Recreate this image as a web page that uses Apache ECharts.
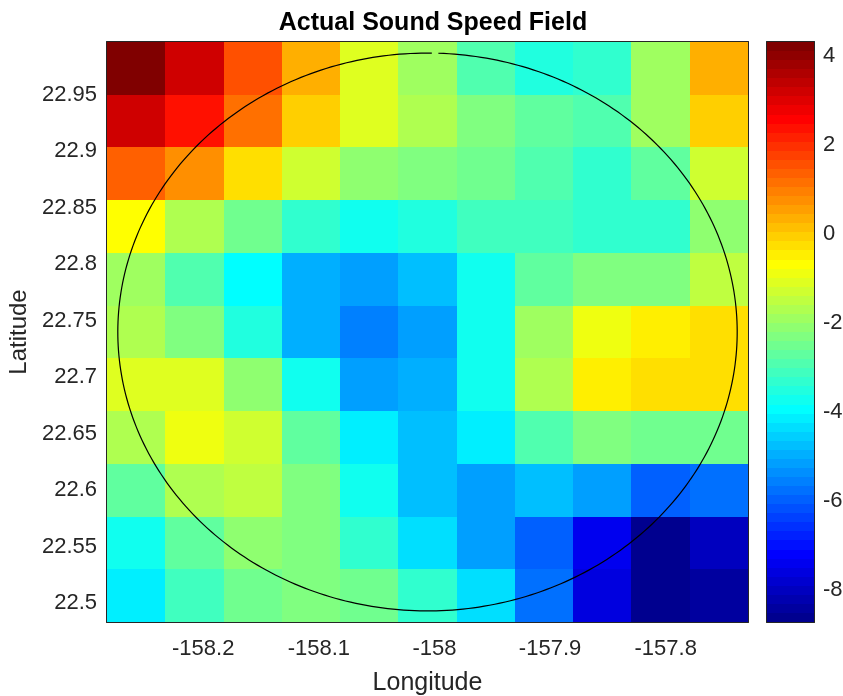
<!DOCTYPE html>
<html>
<head>
<meta charset="utf-8">
<script src="https://cdn.jsdelivr.net/npm/echarts@6/dist/echarts.min.js"></script>
<style>
  html, body { margin: 0; padding: 0; background: #ffffff; }
  #chart { width: 843px; height: 696px; }
</style>
</head>
<body>
<div id="chart"></div>
<script>
// Grid cell centres (degrees)
const lonCenters = [-158.258, -158.2076, -158.1572, -158.1068, -158.0564, -158.006,
                    -157.9556, -157.9052, -157.8548, -157.8044, -157.754];
// Latitude rows, north to south
const latCenters = [22.9735, 22.9268, 22.8801, 22.8334, 22.7867, 22.7400,
                    22.6933, 22.6466, 22.5999, 22.5532, 22.5065];

// Sound speed anomaly (m/s), one row per latitude, west to east
const soundSpeedRows = [
  [ 4.32,  3.20,  1.57,  0.35, -1.07, -1.89, -2.91, -3.52, -3.32, -1.89,  0.35],
  [ 3.20,  2.39,  1.17, -0.06, -1.07, -1.69, -2.30, -2.70, -2.91, -1.89, -0.06],
  [ 1.37,  0.76, -0.26, -1.28, -2.09, -2.30, -2.50, -2.91, -3.32, -2.70, -1.28],
  [-0.67, -1.69, -2.50, -3.32, -3.72, -3.52, -3.11, -3.11, -3.32, -3.32, -2.09],
  [-1.89, -2.91, -3.93, -4.95, -5.15, -4.74, -3.72, -2.70, -2.30, -2.30, -1.48],
  [-1.69, -2.30, -3.52, -4.95, -5.56, -5.15, -3.72, -1.89, -0.87, -0.46, -0.26],
  [-1.07, -1.07, -2.09, -3.72, -5.15, -4.95, -3.72, -1.69, -0.46, -0.26, -0.26],
  [-1.69, -0.87, -1.28, -2.70, -4.13, -4.74, -4.13, -2.91, -2.30, -2.50, -2.50],
  [-2.70, -1.69, -1.48, -2.30, -3.72, -4.74, -5.15, -4.74, -5.15, -5.96, -5.76],
  [-3.72, -2.70, -2.09, -2.30, -3.32, -4.33, -5.15, -5.96, -7.39, -8.61, -8.00],
  [-4.13, -3.11, -2.50, -2.30, -2.50, -3.32, -4.33, -5.76, -7.59, -8.72, -8.41]
];

const lonTicks = [-158.2, -158.1, -158, -157.9, -157.8];
const latTicks = [22.5, 22.55, 22.6, 22.65, 22.7, 22.75, 22.8, 22.85, 22.9, 22.95];
const colorbarTicks = [-8, -6, -4, -2, 0, 2, 4];

// Survey circle: centre (lon, lat) and radius in km
const circleCenter = [-158.006, 22.740];
const circleRadiusKm = 27.5;

// ---- derived helpers ----
// cell edges halfway between neighbouring centres (outer edges mirrored)
function edgesOf(centers) {
  const e = [];
  const n = centers.length;
  e.push(centers[0] - (centers[1] - centers[0]) / 2);
  for (let i = 1; i < n; i++) e.push((centers[i - 1] + centers[i]) / 2);
  e.push(centers[n - 1] + (centers[n - 1] - centers[n - 2]) / 2);
  return e;
}
const lonEdges = edgesOf(lonCenters);
const latEdges = edgesOf(latCenters);
const lonMin = Math.min(lonEdges[0], lonEdges[lonEdges.length - 1]);
const lonMax = Math.max(lonEdges[0], lonEdges[lonEdges.length - 1]);
const latMin = Math.min(latEdges[0], latEdges[latEdges.length - 1]);
const latMax = Math.max(latEdges[0], latEdges[latEdges.length - 1]);

const cells = [];
soundSpeedRows.forEach((row, r) => {
  row.forEach((v, c) => cells.push([lonCenters[c], latCenters[r], v, c, r]));
});
const allValues = soundSpeedRows.flat();
const cMin = Math.min(...allValues);
const cMax = Math.max(...allValues);
const nColors = 64;

// MATLAB-style jet colormap with n entries
function jetMap(n) {
  const q = Math.ceil(n / 4);
  const u = [];
  for (let i = 1; i <= q; i++) u.push(i / q);
  for (let i = 1; i < q; i++) u.push(1);
  for (let i = q; i >= 1; i--) u.push(i / q);
  const gOff = Math.ceil(q / 2) - (n % 4 === 1 ? 1 : 0);
  const cols = [];
  for (let j = 1; j <= n; j++) {
    const pick = k => (k >= 1 && k <= u.length) ? u[k - 1] : 0;
    const g = pick(j - gOff);
    const rr = pick(j - gOff - q);
    const b = pick(j - gOff + q);
    cols.push('rgb(' + Math.round(rr * 255) + ',' + Math.round(g * 255) + ',' + Math.round(b * 255) + ')');
  }
  return cols;
}
const jet = jetMap(nColors);
function colorFor(v) {
  let idx = Math.floor((v - cMin) / (cMax - cMin) * nColors);
  idx = Math.max(0, Math.min(nColors - 1, idx));
  return jet[idx];
}

const bands = [];
for (let i = 0; i < nColors; i++) bands.push([i]);
const bandStep = (cMax - cMin) / nColors;

// rectangle between two pixel corners, snapped to whole pixels so neighbours meet
function pixelRect(p0, p1) {
  const x0 = Math.round(Math.min(p0[0], p1[0])), x1 = Math.round(Math.max(p0[0], p1[0]));
  const y0 = Math.round(Math.min(p0[1], p1[1])), y1 = Math.round(Math.max(p0[1], p1[1]));
  return { x: x0, y: y0, width: x1 - x0, height: y1 - y0 };
}

const axisColor = '#262626';
const fontFamily = '"Liberation Sans", Arial, Helvetica, sans-serif';
const fmt = v => String(+(+v).toFixed(3));
const tickFont = 22;

const chart = echarts.init(document.getElementById('chart'), null, { renderer: 'canvas' });

const option = {
  backgroundColor: '#ffffff',
  animation: false,
  title: {
    text: 'Actual Sound Speed Field',
    left: 428, top: 6, textAlign: 'center',
    textStyle: { fontFamily, fontSize: 25, fontWeight: 'bold', color: '#000000' }
  },
  grid: [
    { left: 107, top: 42, width: 641, height: 580, show: false, containLabel: false, outerBoundsMode: 'none' },
    { left: 767, top: 42, width: 47, height: 580, show: false, containLabel: false, outerBoundsMode: 'none' }
  ],
  xAxis: [
    {
      type: 'value', gridIndex: 0, position: 'bottom', min: lonMin, max: lonMax,
      name: 'Longitude', nameLocation: 'middle', nameGap: 49,
      nameTextStyle: { fontFamily, fontSize: 25, color: axisColor },
      axisLine: { show: true, onZero: false, lineStyle: { color: axisColor, width: 2 } },
      axisTick: { show: true, inside: true, length: 7, customValues: lonTicks, lineStyle: { color: axisColor, width: 2 } },
      axisLabel: { show: true, customValues: lonTicks, margin: 16, formatter: fmt, fontFamily, fontSize: tickFont, color: axisColor },
      splitLine: { show: false }
    },
    {
      type: 'value', gridIndex: 0, position: 'top', min: lonMin, max: lonMax,
      axisLine: { show: true, onZero: false, lineStyle: { color: axisColor, width: 2 } },
      axisTick: { show: true, inside: true, length: 7, customValues: lonTicks, lineStyle: { color: axisColor, width: 2 } },
      axisLabel: { show: false }, splitLine: { show: false }
    },
    {
      type: 'value', gridIndex: 1, min: 0, max: 1, show: true, position: 'bottom',
      axisLine: { show: true, onZero: false, lineStyle: { color: axisColor, width: 2 } },
      axisTick: { show: false }, axisLabel: { show: false }, splitLine: { show: false }
    },
    {
      type: 'value', gridIndex: 1, min: 0, max: 1, show: true, position: 'top',
      axisLine: { show: true, onZero: false, lineStyle: { color: axisColor, width: 2 } },
      axisTick: { show: false }, axisLabel: { show: false }, splitLine: { show: false }
    }
  ],
  yAxis: [
    {
      type: 'value', gridIndex: 0, position: 'left', min: latMin, max: latMax,
      name: 'Latitude', nameLocation: 'middle', nameGap: 71, nameRotate: 90,
      nameTextStyle: { fontFamily, fontSize: 24, color: axisColor },
      axisLine: { show: true, onZero: false, lineStyle: { color: axisColor, width: 2 } },
      axisTick: { show: true, inside: true, length: 7, customValues: latTicks, lineStyle: { color: axisColor, width: 2 } },
      axisLabel: { show: true, customValues: latTicks, margin: 10, formatter: fmt, fontFamily, fontSize: tickFont, color: axisColor },
      splitLine: { show: false }
    },
    {
      type: 'value', gridIndex: 0, position: 'right', min: latMin, max: latMax,
      axisLine: { show: true, onZero: false, lineStyle: { color: axisColor, width: 2 } },
      axisTick: { show: true, inside: true, length: 7, customValues: latTicks, lineStyle: { color: axisColor, width: 2 } },
      axisLabel: { show: false }, splitLine: { show: false }
    },
    {
      type: 'value', gridIndex: 1, position: 'right', min: cMin, max: cMax,
      axisLine: { show: true, onZero: false, lineStyle: { color: axisColor, width: 2 } },
      axisTick: { show: true, inside: true, length: 7, customValues: colorbarTicks, lineStyle: { color: axisColor, width: 2 } },
      axisLabel: { show: true, customValues: colorbarTicks, margin: 9, formatter: fmt, fontFamily, fontSize: tickFont, color: axisColor },
      splitLine: { show: false }
    },
    {
      type: 'value', gridIndex: 1, position: 'left', min: cMin, max: cMax,
      axisLine: { show: true, onZero: false, lineStyle: { color: axisColor, width: 2 } },
      axisTick: { show: false }, axisLabel: { show: false }, splitLine: { show: false }
    }
  ],
  series: [
    {
      name: 'Sound speed', type: 'custom', xAxisIndex: 0, yAxisIndex: 0, clip: true, z: 1,
      data: cells,
      renderItem: (params, api) => {
        const v = api.value(2), c = api.value(3), r = api.value(4);
        const p0 = api.coord([lonEdges[c], latEdges[r]]);
        const p1 = api.coord([lonEdges[c + 1], latEdges[r + 1]]);
        return {
          type: 'rect',
          shape: pixelRect(p0, p1),
          style: { fill: colorFor(v), lineWidth: 0 }
        };
      }
    },
    {
      name: 'Survey circle', type: 'custom', xAxisIndex: 0, yAxisIndex: 0, clip: true, z: 3,
      data: [[circleCenter[0], circleCenter[1], circleRadiusKm]],
      renderItem: (params, api) => {
        const lon0 = api.value(0), lat0 = api.value(1), rKm = api.value(2);
        const rLat = rKm / 111.32;
        const rLon = rKm / (111.32 * Math.cos(lat0 * Math.PI / 180));
        const pts = [];
        const start = 0.035, end = 2 * Math.PI + 0.014;
        const steps = 360;
        for (let i = 0; i <= steps; i++) {
          const t = start + (end - start) * i / steps;
          pts.push(api.coord([lon0 + rLon * Math.sin(t), lat0 + rLat * Math.cos(t)]));
        }
        return {
          type: 'polyline',
          shape: { points: pts },
          style: { fill: null, stroke: '#000000', lineWidth: 1.2 }
        };
      }
    },
    {
      name: 'Colorbar', type: 'custom', xAxisIndex: 2, yAxisIndex: 2, clip: true, z: 1,
      data: bands,
      renderItem: (params, api) => {
        const i = api.value(0);
        const lo = cMin + i * bandStep, hi = lo + bandStep;
        const p0 = api.coord([0, hi]);
        const p1 = api.coord([1, lo]);
        return {
          type: 'rect',
          shape: pixelRect(p0, p1),
          style: { fill: jet[i], lineWidth: 0 }
        };
      }
    }
  ]
};
chart.setOption(option);
</script>
</body>
</html>
